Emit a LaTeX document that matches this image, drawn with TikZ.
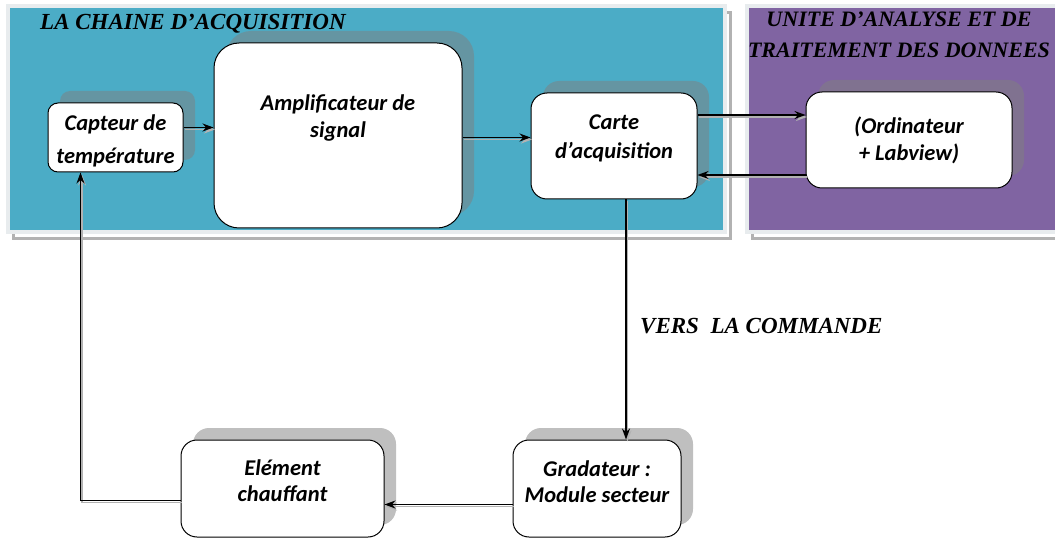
\documentclass[tikz,border=0pt]{standalone}
\usepackage{fontspec}
\setmainfont{Carlito}
\newfontfamily\titlefont{Liberation Serif}
\usetikzlibrary{positioning, shadows, arrows.meta}
\definecolor{chaincolor}{RGB}{75,172,198}
\definecolor{unitcolor}{RGB}{128,100,162}
\definecolor{framecolor}{RGB}{232,236,238}

\begin{document}
\begin{tikzpicture}[
    x=1pt, y=-1pt,
    panel/.style={rectangle, draw=framecolor, line width=4pt, inner sep=0pt,
        drop shadow={shadow xshift=5pt, shadow yshift=-7pt, fill=white, draw=gray!60, line width=3pt, opacity=1}},
    block/.style={rectangle, draw, rounded corners=16pt, fill=white, line width=1pt,
        drop shadow={shadow xshift=12pt, shadow yshift=12pt, fill=gray, opacity=0.5}},
    boxtext/.style={align=center, inner sep=0pt, font=\fontsize{22.5}{27}\selectfont\bfseries\itshape},
    title/.style={inner sep=0pt, font=\titlefont\fontsize{23}{31}\selectfont\bfseries\itshape},
    arrow/.style={->, >={Stealth[length=11pt, width=8pt]}, line width=1.2pt,
        preaction={draw=gray!60, line width=1.2pt, transform canvas={xshift=1.5pt, yshift=-2pt}}}
]
    \useasboundingbox[fill=white] (0,0) rectangle (1055,540);

    % Panels
    \node[panel, fill=chaincolor, minimum width=717pt, minimum height=226pt] (chain) at (366.5,119) {};
    \node[panel, fill=unitcolor, minimum width=327pt, minimum height=226pt] (unit) at (910.5,119) {};
    \node[title, anchor=base west] (chaintitle) at (40,30) {LA CHAINE D’ACQUISITION};
    \node[title, align=center, anchor=north, font=\titlefont\fontsize{22}{31}\selectfont\bfseries\itshape]
        (unittitle) at (899,12) {UNITE D’ANALYSE ET DE\\TRAITEMENT DES DONNEES};

    % Acquisition chain
    \node[block, rounded corners=10pt, minimum width=135pt, minimum height=69pt,
        label={[boxtext, yshift=-3pt, font=\fontsize{22.5}{33}\selectfont\bfseries\itshape]center:Capteur de\\température}] (capteur) at (115.5,137.5) {};
    \node[block, rounded corners=25pt, minimum width=248pt, minimum height=185pt,
        label={[boxtext, yshift=18pt]center:Amplificateur de\\signal}] (amp) at (338,135.5) {};
    \node[block, minimum width=166pt, minimum height=106pt,
        label={[boxtext, yshift=7.5pt, font=\fontsize{22.5}{29}\selectfont\bfseries\itshape]center:Carte\\d’acquisition}] (carte) at (614,146) {};

    % Data processing unit
    \node[block, minimum width=206pt, minimum height=96pt,
        label={[boxtext]center:(Ordinateur\\+ Labview)}] (ordi) at (909,140) {};

    % Command loop
    \node[block, minimum width=168pt, minimum height=97pt,
        label={[boxtext, yshift=6.5pt, font=\fontsize{22.5}{26}\selectfont\bfseries\itshape]center:Gradateur :\\Module secteur}] (gradateur) at (597,488.5) {};
    \node[block, minimum width=203pt, minimum height=97pt,
        label={[boxtext, yshift=7.5pt, font=\fontsize{22.5}{26}\selectfont\bfseries\itshape]center:Elément\\chauffant}] (element) at (282.5,488.5) {};
    \node[title, anchor=base west] (vers) at (640,333) {VERS\ \ LA COMMANDE};

    % Arrows
    \draw[arrow] ([yshift=10pt]capteur.east) -- ([yshift=10pt]capteur.east -| amp.west);
    \draw[arrow] ([yshift=-2pt]amp.east) -- ([yshift=-2pt]amp.east -| carte.west);
    \draw[arrow] ([yshift=31pt]carte.east) -- ([yshift=31pt]carte.east -| ordi.west);
    \draw[arrow] ([yshift=-35pt]ordi.west) -- ([yshift=-35pt]ordi.west -| carte.east);
    \draw[arrow] ([xshift=12pt]carte.south) -- ([xshift=12pt]carte.south |- gradateur.north);
    \draw[arrow] ([yshift=-16pt]gradateur.west) -- ([yshift=-16pt]gradateur.west -| element.east);
    \draw[arrow] ([yshift=-12pt]element.west) -| ([xshift=-35pt]capteur.south);

\end{tikzpicture}
\end{document}
